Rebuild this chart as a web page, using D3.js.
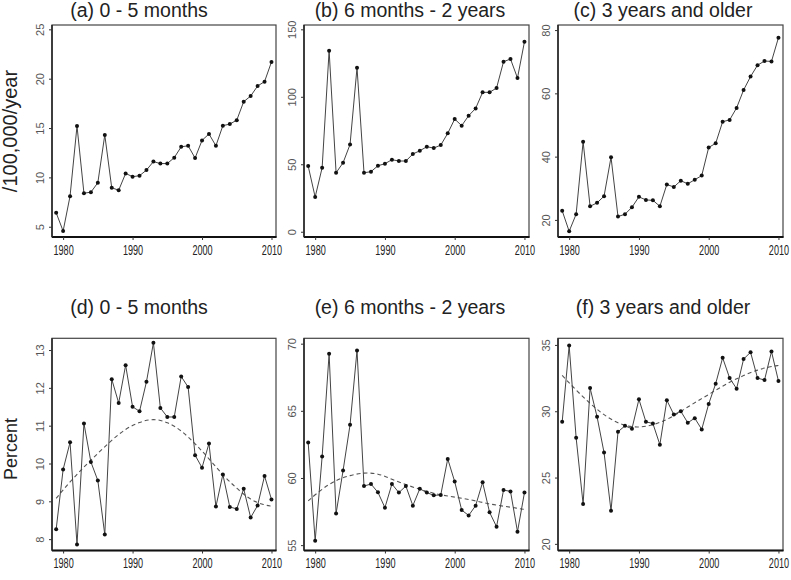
<!DOCTYPE html>
<html><head><meta charset="utf-8">
<script src="https://cdn.jsdelivr.net/npm/d3@7"></script>
<style>
html,body{margin:0;padding:0;background:#fff;}
svg{display:block;}
</style>
</head><body>
<svg id="chart" width="791" height="580"></svg>
<script>
const years = d3.range(1979, 2011);
const xTicks = [1980, 1990, 2000, 2010];

const titles = ["(a) 0 - 5 months", "(b) 6 months - 2 years", "(c) 3 years and older",
                "(d) 0 - 5 months", "(e) 6 months - 2 years", "(f) 3 years and older"];
const rowLabels = ["/100,000/year", "Percent"];

const rateA = [6.42,4.56,8.1,15.2,8.4,8.5,9.46,14.3,8.95,8.7,10.4,10.07,10.17,10.74,11.6,11.4,11.4,12.0,13.1,13.2,11.96,13.75,14.4,13.2,15.24,15.4,15.8,17.67,18.24,19.26,19.7,21.7];
const rateB = [48.7,25.7,47.4,134.2,43.7,51.1,64.7,121.6,43.7,44.5,48.9,50.4,53.4,52.4,52.4,57.6,60.0,63.0,62.0,64.2,72.9,83.5,78.6,86.0,91.4,103.3,103.3,106.5,126.0,128.0,113.9,140.8];
const rateC = [22.9,16.4,21.8,44.7,24.3,25.4,27.5,39.8,21.05,21.8,24.0,27.3,26.3,26.2,24.3,31.2,30.4,32.4,31.4,32.7,34.0,42.9,44.2,51.05,51.6,55.4,61.05,65.3,68.9,70.2,70.1,77.6];

const pctD = [8.26,9.84,10.56,7.86,11.06,10.04,9.55,8.12,12.23,11.6,12.6,11.5,11.38,12.16,13.19,11.47,11.23,11.23,12.3,12.02,10.22,9.89,10.53,8.86,9.71,8.85,8.8,9.33,8.57,8.89,9.67,9.05];
const pctE = [62.64,55.32,61.59,69.25,57.36,60.55,63.96,69.5,59.4,59.55,58.93,57.79,59.55,58.91,59.4,57.94,59.2,58.91,58.71,58.73,61.42,59.73,57.61,57.21,57.94,59.68,57.44,56.37,59.1,59.0,56.0,58.91];
const pctF = [29.2,34.95,28.0,23.0,31.75,29.58,26.88,22.5,28.45,28.9,28.68,30.9,29.2,29.08,27.48,30.83,29.75,30.0,29.13,29.48,28.63,30.55,32.08,34.03,32.5,31.7,33.93,34.45,32.5,32.35,34.5,32.28];

const trendYears = [1979,1981,1983,1985,1987,1989,1991,1993,1995,1997,1999,2001,2003,2005,2007,2009,2010];
const trendD = [9.08,9.52,9.91,10.27,10.62,10.92,11.1,11.19,11.1,10.88,10.53,10.13,9.69,9.34,9.03,8.9,8.87];
const trendE = [58.3,59.2,59.85,60.2,60.4,60.35,59.9,59.5,59.15,58.85,58.65,58.5,58.3,58.05,57.9,57.75,57.65];
const trendF = [32.7,31.58,30.58,29.7,29.08,28.78,28.83,29.13,29.63,30.33,30.95,31.58,32.2,32.7,33.13,33.38,33.45];

const yTicksA = [5,10,15,20,25];
const yTicksB = [0,50,100,150];
const yTicksC = [20,40,60,80];
const yTicksD = [8,9,10,11,12,13];
const yTicksE = [55,60,65,70];
const yTicksF = [20,25,30,35];

// layout (pixels) kept separate from data
const cols = [[52,276],[304,529],[558,783]];
const rows = [[25,237],[338.3,550.5]];
const titleX = [139,410,663];
const titleY = [17,314];
const xDomain = [1978.4, 2010.65];

const panels = [
  {t:titles[0], v:rateA, ticks:yTicksA, dom:[3.96,25.44], c:0, r:0},
  {t:titles[1], v:rateB, ticks:yTicksB, dom:[-3.9,153.2], c:1, r:0},
  {t:titles[2], v:rateC, ticks:yTicksC, dom:[14.6,81.6], c:2, r:0},
  {t:titles[3], v:pctD, trend:trendD, ticks:yTicksD, dom:[7.70,13.31], c:0, r:1},
  {t:titles[4], v:pctE, trend:trendE, ticks:yTicksE, dom:[54.6,70.4], c:1, r:1},
  {t:titles[5], v:pctF, trend:trendF, ticks:yTicksF, dom:[19.5,35.5], c:2, r:1},
];

const svg = d3.select("#chart");
const sans = "'Liberation Sans', Arial, sans-serif";

panels.forEach(p => {
  const [x0,x1] = cols[p.c];
  const [y0,y1] = rows[p.r];
  const x = d3.scaleLinear().domain(xDomain).range([x0,x1]);
  const y = d3.scaleLinear().domain(p.dom).range([y1,y0]);
  const g = svg.append("g");

  // frame
  g.append("rect").attr("x",x0).attr("y",y0).attr("width",x1-x0).attr("height",y1-y0)
    .attr("fill","none").attr("stroke","#444").attr("stroke-width",1.2);
  g.append("line").attr("x1",x0).attr("x2",x1+0.5).attr("y1",y1).attr("y2",y1)
    .attr("stroke","#111").attr("stroke-width",2);
  g.append("line").attr("x1",x0).attr("x2",x0).attr("y1",y0).attr("y2",y1)
    .attr("stroke","#222").attr("stroke-width",1.5);

  // x axis
  const xa = g.append("g").attr("transform",`translate(0,${y1})`)
    .call(d3.axisBottom(x).tickValues(xTicks).tickFormat(d3.format("d")).tickSize(3).tickPadding(5));
  xa.select(".domain").remove();
  xa.selectAll("line").attr("stroke","#333");
  xa.selectAll("text").attr("font-family",sans).attr("font-size",14).attr("fill","#222")
    .attr("transform","scale(0.65,1)");

  // y axis
  const ya = g.append("g").attr("transform",`translate(${x0},0)`)
    .call(d3.axisLeft(y).tickValues(p.ticks).tickFormat(d3.format("d")).tickSize(3).tickPadding(0));
  ya.select(".domain").remove();
  ya.selectAll("line").attr("stroke","#333");
  ya.selectAll("text")
    .attr("font-family",sans).attr("font-size",11).attr("fill","#555")
    .attr("text-anchor","middle").attr("x",null).attr("dy",null)
    .attr("transform","translate(-8,0) rotate(-90)");

  // trend (dashed)
  if (p.trend) {
    g.append("path")
      .datum(trendYears.map((yr,i)=>[yr,p.trend[i]]))
      .attr("fill","none").attr("stroke","#555").attr("stroke-width",1.1)
      .attr("stroke-dasharray","4,3")
      .attr("d", d3.line().x(d=>x(d[0])).y(d=>y(d[1])).curve(d3.curveBasis));
  }

  // series
  const data = years.map((yr,i)=>[yr,p.v[i]]);
  g.append("path").datum(data).attr("fill","none").attr("stroke","#444").attr("stroke-width",1)
    .attr("d", d3.line().x(d=>x(d[0])).y(d=>y(d[1])));
  g.selectAll("circle.pt").data(data).join("circle").attr("class","pt")
    .attr("cx",d=>x(d[0])).attr("cy",d=>y(d[1])).attr("r",2).attr("fill","#111");

  // title
  svg.append("text").attr("x",titleX[p.c]).attr("y",titleY[p.r])
    .attr("text-anchor","middle").attr("font-family",sans).attr("font-size",19.5)
    .attr("fill","#222").text(p.t);
});

// row labels
[[131,20],[449,18]].forEach((d,i)=>{
  svg.append("text").attr("transform",`translate(17,${d[0]}) rotate(-90)`)
    .attr("text-anchor","middle").attr("font-family",sans).attr("font-size",d[1])
    .attr("fill","#222").text(rowLabels[i]);
});
</script>
</body></html>
